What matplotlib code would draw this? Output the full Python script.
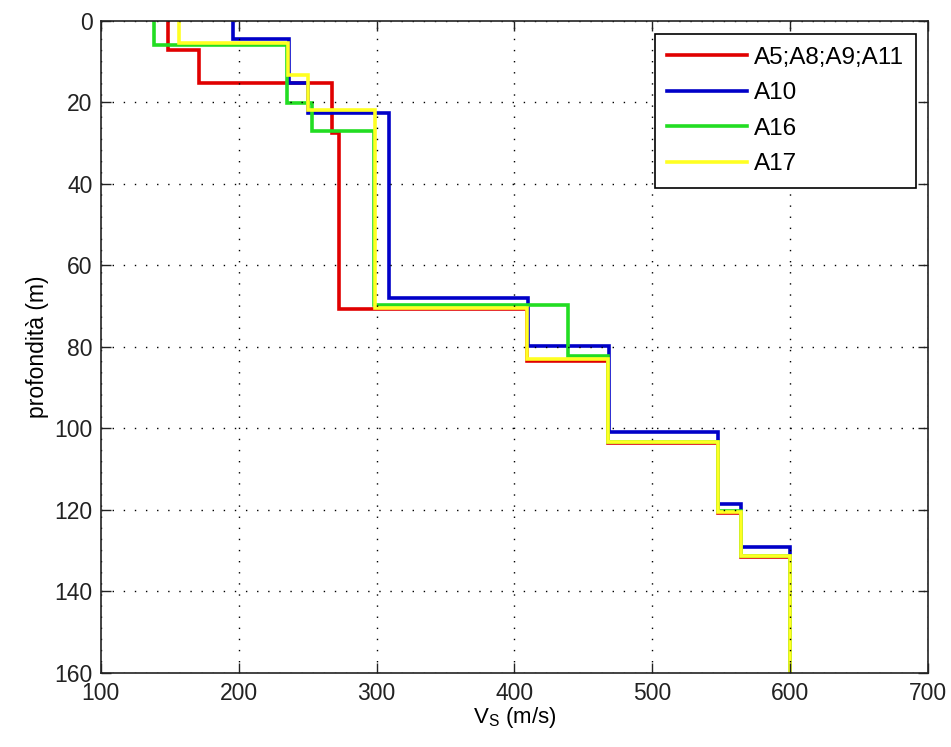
import matplotlib
matplotlib.use("Agg")
import matplotlib.pyplot as plt

# Layer velocities (m/s) and layer boundary depths (m)
labels = ["A5;A8;A9;A11", "A10", "A16", "A17"]
colors = ["#E00000", "#0000C8", "#22DD22", "#FFFF22"]

vs_red = [149, 171, 268, 273, 409, 468, 548, 564, 600]
z_red = [0, 7.2, 15.2, 27.5, 70.8, 83.4, 103.7, 120.8, 131.7, 160]

vs_blue = [196, 236.5, 250, 309, 410, 468.5, 548, 564, 600]
z_blue = [0, 4.5, 15.2, 22.6, 68.0, 79.8, 100.9, 118.5, 129.2, 160]

vs_green = [139, 235, 253, 298, 439, 468, 548, 564, 600]
z_green = [0, 6.0, 20.1, 27.0, 69.8, 82.3, 103.3, 120.3, 131.3, 160]

vs_yellow = [157, 236, 250, 299, 409, 468, 548, 564, 600]
z_yellow = [0, 5.5, 13.3, 21.9, 70.4, 83.0, 103.3, 120.5, 131.4, 160]

x_ticks = [100, 200, 300, 400, 500, 600, 700]
y_ticks = [0, 20, 40, 60, 80, 100, 120, 140, 160]

plt.rcParams['font.family'] = ['Liberation Sans', 'DejaVu Sans']
plt.rcParams['mathtext.fontset'] = 'custom'
plt.rcParams['mathtext.rm'] = 'Liberation Sans'

fig = plt.figure(figsize=(9.51, 7.47), dpi=100)
ax = fig.add_axes([0.1059, 0.0995, 0.870, 0.8728])

series = [(vs_red, z_red), (vs_blue, z_blue), (vs_green, z_green), (vs_yellow, z_yellow)]
for (v, z), c, lab in zip(series, colors, labels):
    ax.stairs(v, z, orientation='horizontal', baseline=None, color=c,
              linewidth=2.6, label=lab)

ax.set_xlim(100, 700)
ax.set_ylim(160, 0)
ax.set_xticks(x_ticks)
ax.set_yticks(y_ticks)
ax.grid(True, color='black', linestyle=(0, (1, 7)), linewidth=1.0)
ax.tick_params(direction='in', length=7, width=1, top=True, right=True,
               labelsize=16.5, colors='#222222')
ax.tick_params(axis='x', pad=7)
ax.tick_params(axis='y', pad=6)
for s in ax.spines.values():
    s.set_color('#222222')
    s.set_linewidth(1.2)

ax.set_xlabel(r'V$_\mathrm{S}$ (m/s)', fontsize=16, labelpad=0)
ax.set_ylabel('profondità (m)', fontsize=16.5, labelpad=4)

leg = ax.legend(loc='upper right', bbox_to_anchor=(0.986, 0.979), fontsize=17.5,
                frameon=True, fancybox=False, edgecolor='black', framealpha=1,
                handlelength=3.3, handletextpad=0.3, labelspacing=0.56,
                borderpad=0.5, borderaxespad=0)
leg.get_frame().set_linewidth(1.2)

fig.savefig('out.png', dpi=100)
